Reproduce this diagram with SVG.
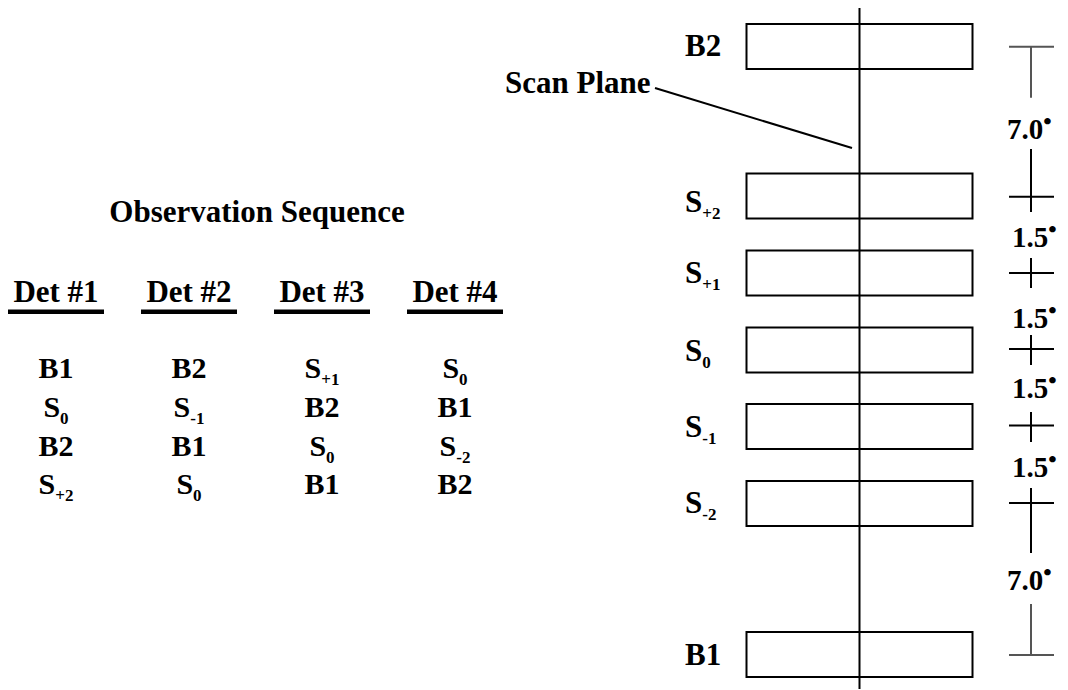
<svg xmlns="http://www.w3.org/2000/svg" width="1068" height="690" viewBox="0 0 1068 690">
<style>
text{font-family:"Liberation Serif","Times New Roman",serif;font-weight:bold;fill:#000}
.h{font-size:31px}
.t{font-size:30px;text-anchor:middle}
.l{font-size:31px}
.d{font-size:29px}
.sub{font-size:17px}
.deg{font-size:24px}
.box{fill:none;stroke:#000;stroke-width:2}
.ln{stroke:#000;stroke-width:2;fill:none}
.gl{stroke:#555;stroke-width:2;fill:none}
</style>
<rect width="1068" height="690" fill="#fff"/>
<g id="table">
<text class="h" x="257" y="222" text-anchor="middle">Observation Sequence</text>
<g id="det1">
<text class="h" x="56" y="302" text-anchor="middle">Det #1</text>
<rect x="8" y="309.5" width="96" height="4.5"/>
<text class="t" x="56" y="378">B1</text>
<text class="t" x="56" y="416.5">S<tspan class="sub" dy="7">0</tspan></text>
<text class="t" x="56" y="455.5">B2</text>
<text class="t" x="56" y="493.5">S<tspan class="sub" dy="7">+2</tspan></text>
</g>
<g id="det2">
<text class="h" x="189" y="302" text-anchor="middle">Det #2</text>
<rect x="141" y="309.5" width="96" height="4.5"/>
<text class="t" x="189" y="378">B2</text>
<text class="t" x="189" y="416.5">S<tspan class="sub" dy="7">-1</tspan></text>
<text class="t" x="189" y="455.5">B1</text>
<text class="t" x="189" y="493.5">S<tspan class="sub" dy="7">0</tspan></text>
</g>
<g id="det3">
<text class="h" x="322" y="302" text-anchor="middle">Det #3</text>
<rect x="274" y="309.5" width="96" height="4.5"/>
<text class="t" x="322" y="378">S<tspan class="sub" dy="7">+1</tspan></text>
<text class="t" x="322" y="416.5">B2</text>
<text class="t" x="322" y="455.5">S<tspan class="sub" dy="7">0</tspan></text>
<text class="t" x="322" y="493.5">B1</text>
</g>
<g id="det4">
<text class="h" x="455" y="302" text-anchor="middle">Det #4</text>
<rect x="407" y="309.5" width="96" height="4.5"/>
<text class="t" x="455" y="378">S<tspan class="sub" dy="7">0</tspan></text>
<text class="t" x="455" y="416.5">B1</text>
<text class="t" x="455" y="455.5">S<tspan class="sub" dy="7">-2</tspan></text>
<text class="t" x="455" y="493.5">B2</text>
</g>
</g>
<g id="beams">
<g id="B2"><rect class="box" x="746.5" y="24" width="226" height="45"/><text class="l" x="685" y="56">B2</text></g>
<g id="Sp2"><rect class="box" x="746.5" y="173.5" width="226" height="45"/><text class="l" x="685" y="212">S<tspan class="sub" dy="7">+2</tspan></text></g>
<g id="Sp1"><rect class="box" x="746.5" y="250.5" width="226" height="45"/><text class="l" x="685" y="283">S<tspan class="sub" dy="7">+1</tspan></text></g>
<g id="S0"><rect class="box" x="746.5" y="327.5" width="226" height="45"/><text class="l" x="685" y="360.5">S<tspan class="sub" dy="7">0</tspan></text></g>
<g id="Sm1"><rect class="box" x="746.5" y="404" width="226" height="45"/><text class="l" x="685" y="436.5">S<tspan class="sub" dy="7">-1</tspan></text></g>
<g id="Sm2"><rect class="box" x="746.5" y="481" width="226" height="45"/><text class="l" x="685" y="513">S<tspan class="sub" dy="7">-2</tspan></text></g>
<g id="B1"><rect class="box" x="746.5" y="632" width="226" height="45"/><text class="l" x="685" y="665">B1</text></g>
<g id="scanplane"><text class="l" x="505" y="93">Scan Plane</text></g>
</g>
<g id="connectors">
<line class="ln" x1="859.5" y1="8" x2="859.5" y2="689"/>
<line class="ln" x1="655" y1="88" x2="852" y2="148"/>
<path class="gl" d="M1009 46.7H1054M1031 46.7V97.7"/>
<path class="ln" d="M1031 149V212M1009 196.7H1054"/>
<path class="ln" d="M1031 258V288M1009 273H1054"/>
<path class="ln" d="M1031 335V365M1009 349H1054"/>
<path class="ln" d="M1031 412V442M1009 425.5H1054"/>
<path class="ln" d="M1031 488V553M1009 503H1054"/>
<path class="gl" d="M1031 604V655M1009 655H1054"/>
</g>
<g id="dims">
<text class="d" x="1007" y="139">7.0<tspan class="deg" dy="-10">•</tspan></text>
<text class="d" x="1012" y="246.5">1.5<tspan class="deg" dy="-10">•</tspan></text>
<text class="d" x="1012" y="327.5">1.5<tspan class="deg" dy="-10">•</tspan></text>
<text class="d" x="1012" y="398">1.5<tspan class="deg" dy="-10">•</tspan></text>
<text class="d" x="1012" y="477">1.5<tspan class="deg" dy="-10">•</tspan></text>
<text class="d" x="1007" y="590">7.0<tspan class="deg" dy="-10">•</tspan></text>
</g>
</svg>
